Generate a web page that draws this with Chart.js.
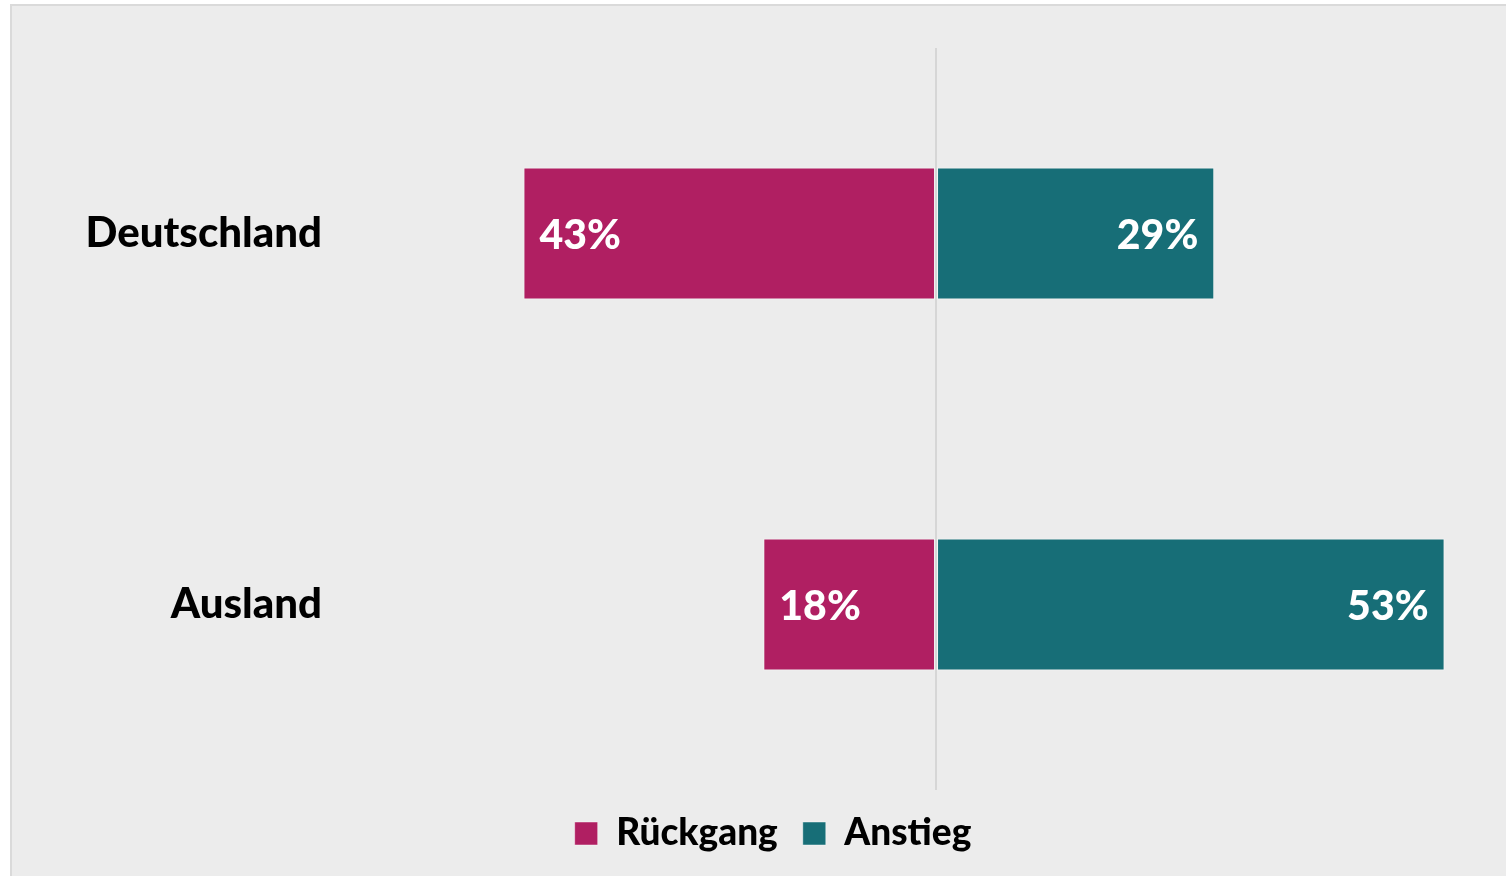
<!DOCTYPE html>
<html lang="de">
  <head>
    <meta charset="UTF-8" />
    <title>Rückgang / Anstieg</title>
    <script src="https://cdn.jsdelivr.net/npm/chart.js"></script>
    <style>
      html, body { margin: 0; padding: 0; background: #fff; overflow: hidden; }
      .frame {
        position: absolute; left: 10px; top: 4px; width: 1520px; height: 900px;
        background: #ececec; border: 2px solid #dadada;
      }
      .wrap { position: absolute; left: 0; top: 0; width: 1506px; height: 876px; }
    </style>
  </head>
  <body>
    <div class="frame"></div>
    <div class="wrap"><canvas id="chart"></canvas></div>
    <script>
      const regions = ["Deutschland", "Ausland"];
      const rueckgang = [43, 18];
      const anstieg = [29, 53];
      const seriesNames = ["Rückgang", "Anstieg"];

      const FONT = "Lato";

      // white percentage labels at the outer end of each bar
      const barLabels = {
        id: "barLabels",
        afterDatasetsDraw(chart) {
          const ctx = chart.ctx;
          ctx.save();
          ctx.font = "900 41px " + FONT;
          ctx.fillStyle = "#ffffff";
          ctx.textBaseline = "middle";
          chart.data.datasets.forEach((ds, i) => {
            chart.getDatasetMeta(i).data.forEach((bar, j) => {
              const v = Math.abs(ds.data[j]);
              if (ds.data[j] < 0) {
                ctx.textAlign = "left";
                ctx.fillText(v + "%", bar.x + 16, bar.y + 2);
              } else {
                ctx.textAlign = "right";
                ctx.fillText(v + "%", bar.x - 16, bar.y + 2);
              }
            });
          });
          ctx.restore();
        },
      };

      new Chart(document.getElementById("chart"), {
        type: "bar",
        data: {
          labels: regions,
          datasets: [
            {
              label: seriesNames[0],
              data: rueckgang.map((v) => -v),
              backgroundColor: "#b01f62",
              borderColor: "rgba(255,255,255,0.45)",
              borderWidth: 1,
              borderSkipped: false,
            },
            {
              label: seriesNames[1],
              data: anstieg,
              backgroundColor: "#176e77",
              borderColor: "rgba(255,255,255,0.45)",
              borderWidth: 1,
              borderSkipped: false,
            },
          ],
        },
        options: {
          indexAxis: "y",
          responsive: true,
          maintainAspectRatio: false,
          animation: false,
          layout: { padding: { top: 48, left: 40, right: 0, bottom: 14 } },
          datasets: { bar: { categoryPercentage: 1, barPercentage: 0.356 } },
          scales: {
            x: {
              stacked: true,
              min: -61.7,
              max: 59.4,
              ticks: { display: false, stepSize: 10 },
              border: { display: false },
              grid: {
                z: 1,
                drawTicks: false,
                lineWidth: 2,
                color: (c) => (c.tick && c.tick.value === 0 ? "#d6d6d6" : "rgba(0,0,0,0)"),
              },
            },
            y: {
              stacked: true,
              grid: { display: false, drawTicks: false },
              border: { display: false },
              ticks: {
                padding: 22,
                color: "#000",
                font: { family: FONT, size: 42, weight: "900" },
              },
              afterFit(scale) {
                scale.width = 304;
              },
            },
          },
          plugins: {
            tooltip: { enabled: false },
            legend: {
              position: "bottom",
              labels: {
                boxWidth: 23,
                boxHeight: 23,
                padding: 25,
                color: "#000",
                font: { family: FONT, size: 37, weight: "900" },
              },
            },
          },
        },
        plugins: [barLabels],
      });
    </script>
  </body>
</html>
